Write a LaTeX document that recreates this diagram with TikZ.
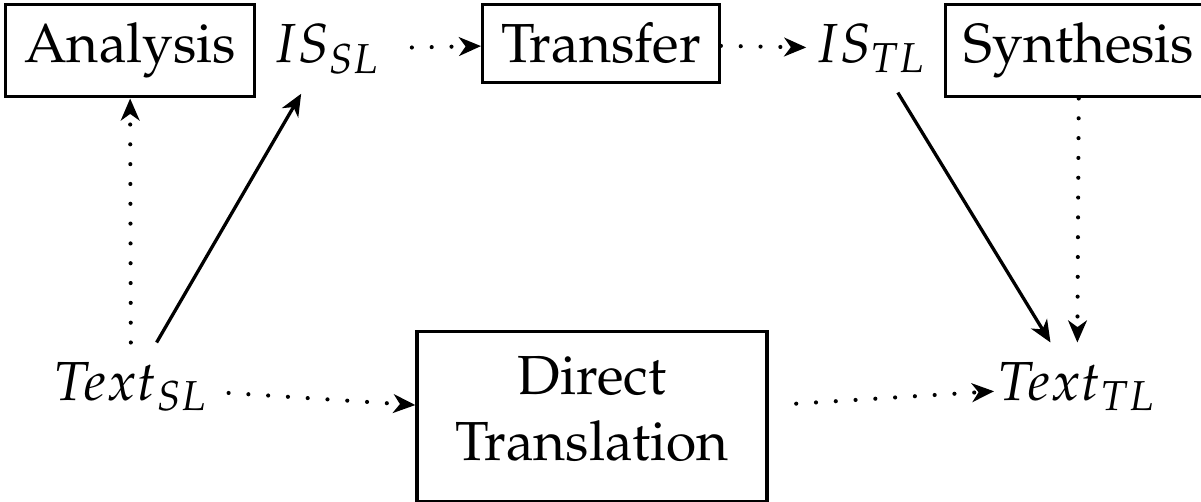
\documentclass[tikz,border=0pt]{standalone}
\usepackage[T1]{fontenc}
\usepackage{mathpazo}
\usetikzlibrary{arrows.meta}

\begin{document}
\begin{tikzpicture}[
    stage box/.style={draw, semithick, anchor=base},
    stage text/.style={anchor=base},
    direct box/.style={draw, semithick, align=center, inner xsep=7pt, inner ysep=4.5pt, text depth=3pt},
    solid arrow/.style={semithick, -{Stealth[length=4pt, width=3.4pt, inset=1.2pt]}},
    dotted arrow/.style={line width=0.75pt, dash pattern=on 0pt off 3.6pt, line cap=round,
        -{Stealth[length=4pt, width=3.4pt, inset=1.2pt]}}
]
    \useasboundingbox (0,0) rectangle (7.668,3.199);

    % Top row
    \node[stage box]  (analysis)  at (0.830,2.797) {Analysis};
    \node[stage text] (issl)      at (2.088,2.797) {$IS_{SL}$};
    \node[stage box]  (transfer)  at (3.837,2.797) {Transfer};
    \node[stage text] (istl)      at (5.561,2.797) {$IS_{TL}$};
    \node[stage box]  (synthesis) at (6.889,2.797) {Synthesis};

    % Bottom row
    \node[stage text] (textsl) at (0.836,0.645) {$Text_{SL}$};
    \node[direct box] (direct) at (3.780,0.540) {Direct\\Translation};
    \node[stage text] (texttl) at (6.877,0.645) {$Text_{TL}$};

    % Transfer path
    \draw[dotted arrow] (textsl) -- (analysis);
    \draw[solid arrow] (textsl) -- (issl);
    \draw[dotted arrow, shorten <=2pt] (issl) -- (transfer);
    \draw[dotted arrow, shorten >=-2pt] (transfer) -- (istl);
    \draw[solid arrow] (istl) -- (texttl);
    \draw[dotted arrow] (synthesis) -- (texttl);

    % Direct path
    \draw[dotted arrow] (textsl) -- (direct);
    \draw[dotted arrow, shorten <=5pt, shorten >=-3pt] (direct) -- (texttl);
\end{tikzpicture}
\end{document}
